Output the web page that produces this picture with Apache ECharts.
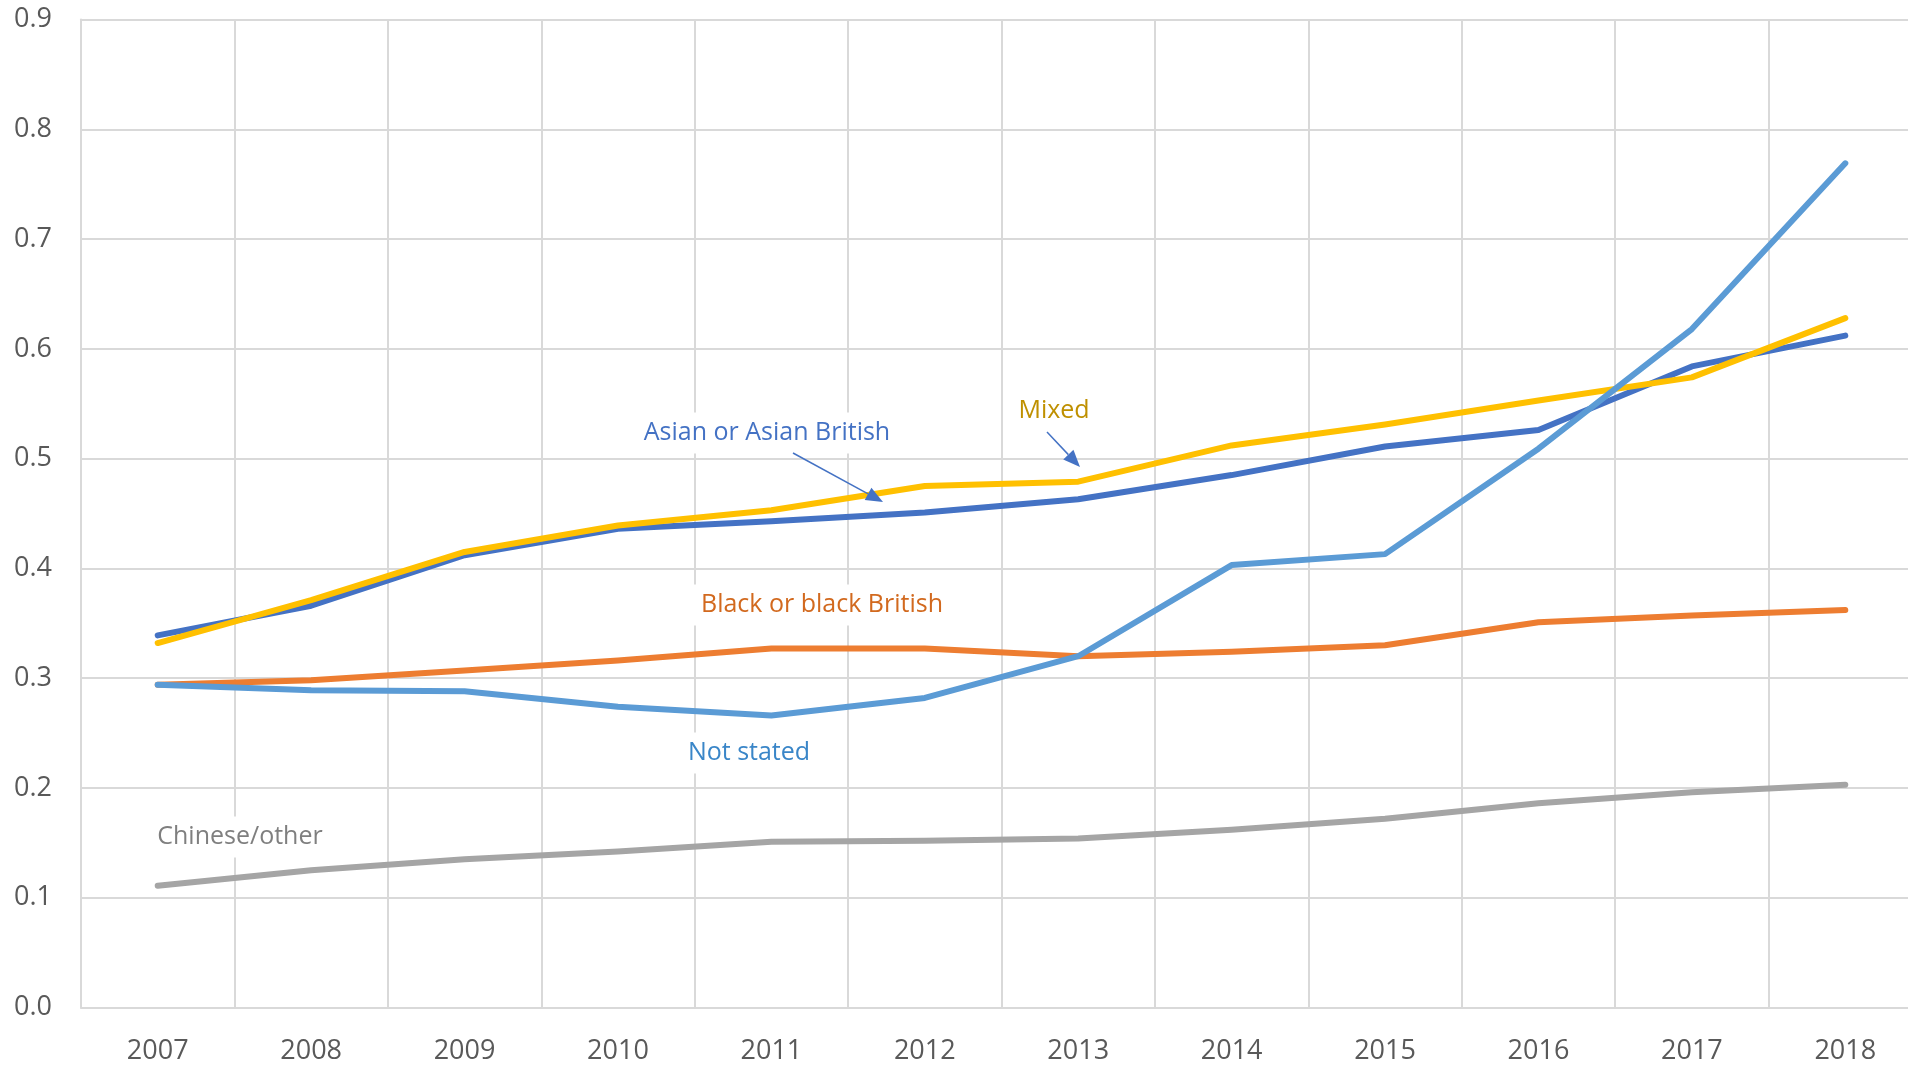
<!DOCTYPE html>
<html>
<head>
<meta charset="utf-8">
<script src="https://cdn.jsdelivr.net/npm/echarts@6/dist/echarts.min.js"></script>
<style>
  html, body { margin: 0; padding: 0; background: #fff; overflow: hidden; }
  /* plot area runs a little past the right edge of the picture, so the canvas is wider than the window */
  #chart { width: 1922px; height: 1066px; }
</style>
</head>
<body>
<div id="chart"></div>
<script>
const years = ['2007', '2008', '2009', '2010', '2011', '2012', '2013', '2014', '2015', '2016', '2017', '2018'];

const asian = [0.339, 0.366, 0.412, 0.436, 0.443, 0.451, 0.463, 0.485, 0.511, 0.526, 0.584, 0.612];
const black = [0.294, 0.298, 0.307, 0.316, 0.327, 0.327, 0.320, 0.324, 0.330, 0.351, 0.357, 0.362];
const chinese = [0.111, 0.125, 0.135, 0.142, 0.151, 0.152, 0.154, 0.162, 0.172, 0.186, 0.196, 0.203];
const mixed = [0.332, 0.371, 0.415, 0.439, 0.453, 0.475, 0.479, 0.512, 0.531, 0.553, 0.574, 0.628];
const notStated = [0.294, 0.289, 0.288, 0.274, 0.266, 0.282, 0.320, 0.403, 0.413, 0.509, 0.618, 0.769];

const font = '"Open Sans", "Noto Sans", sans-serif';
const gridColor = '#d9d9d9';

const chart = echarts.init(document.getElementById('chart'), null, { renderer: 'canvas' });

function line(name, data, color) {
  return {
    name: name,
    type: 'line',
    data: data,
    symbol: 'none',
    smooth: false,
    lineStyle: { color: color, width: 6, cap: 'round', join: 'round' },
    itemStyle: { color: color },
    emphasis: { disabled: true },
    animation: false
  };
}

// annotation text with a white box, like the Excel text boxes
function label(text, x, y, color) {
  return {
    type: 'text',
    x: x,
    y: y,
    z: 100,
    style: {
      text: text,
      fill: color,
      font: '25px ' + font,
      align: 'center',
      verticalAlign: 'middle',
      backgroundColor: '#fff',
      padding: [8, 10]
    }
  };
}

// thin pointer with a filled triangle head
function arrow(x1, y1, x2, y2, color) {
  const ang = Math.atan2(y2 - y1, x2 - x1);
  const len = 17, half = 7;
  const bx = x2 - len * Math.cos(ang), by = y2 - len * Math.sin(ang);
  const px = -Math.sin(ang) * half, py = Math.cos(ang) * half;
  return [
    {
      type: 'line', z: 101,
      shape: { x1: x1, y1: y1, x2: bx, y2: by },
      style: { stroke: color, lineWidth: 1.5 }
    },
    {
      type: 'polygon', z: 101,
      shape: { points: [[x2, y2], [bx + px, by + py], [bx - px, by - py]] },
      style: { fill: color }
    }
  ];
}

const option = {
  backgroundColor: '#fff',
  animation: false,
  grid: { left: 81, right: 0, top: 19.5, bottom: 58.5, containLabel: false },
  xAxis: {
    type: 'category',
    data: years,
    boundaryGap: true,
    axisLine: { show: true, lineStyle: { color: gridColor, width: 2 } },
    axisTick: { show: false },
    axisLabel: { color: '#595959', fontSize: 27, fontFamily: font, margin: 30 },
    splitLine: { show: true, lineStyle: { color: gridColor, width: 2 } }
  },
  yAxis: {
    type: 'value',
    min: 0,
    max: 0.9,
    interval: 0.1,
    axisLine: { show: true, lineStyle: { color: gridColor, width: 2 } },
    axisTick: { show: false },
    axisLabel: {
      color: '#595959', fontSize: 27, fontFamily: font, margin: 29,
      formatter: v => v.toFixed(1)
    },
    splitLine: { show: true, lineStyle: { color: gridColor, width: 2 } }
  },
  series: [
    line('Asian or Asian British', asian, '#4472C4'),
    line('Black or black British', black, '#ED7D31'),
    line('Chinese/other', chinese, '#A5A5A5'),
    line('Mixed', mixed, '#FFC000'),
    line('Not stated', notStated, '#5B9BD5')
  ],
  graphic: [
    label('Asian or Asian British', 767, 433, '#4472C4'),
    label('Mixed', 1054, 411, '#BF9000'),
    label('Black or black British', 822, 605, '#D2691E'),
    label('Not stated', 749, 753, '#3A86C8'),
    label('Chinese/other', 240, 837, '#7F7F7F'),
    ...arrow(793, 453, 883, 502, '#4472C4'),
    ...arrow(1047, 432, 1080, 467, '#4472C4')
  ]
};

chart.setOption(option);
window.addEventListener('resize', () => chart.resize());
</script>
</body>
</html>
